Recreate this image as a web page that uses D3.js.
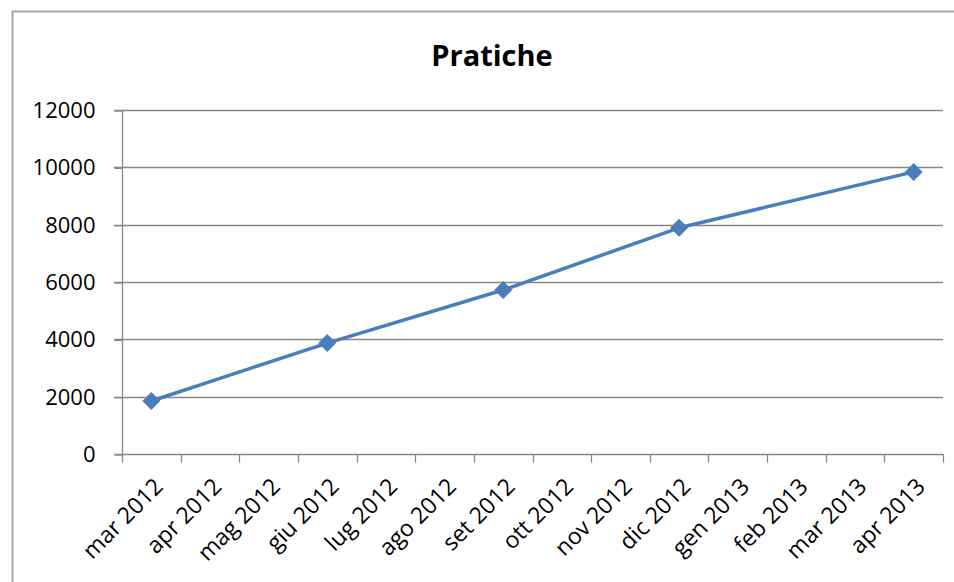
<!DOCTYPE html>
<html><head><meta charset="utf-8">
<script src="https://cdn.jsdelivr.net/npm/d3@7"></script>
<style>body{margin:0;background:#fff;}svg{display:block;}</style>
</head><body>
<script>
const title = "Pratiche";
const categories = ["mar 2012","apr 2012","mag 2012","giu 2012","lug 2012","ago 2012","set 2012","ott 2012","nov 2012","dic 2012","gen 2013","feb 2013","mar 2013","apr 2013"];
const values = [1850, null, null, 3870, null, null, 5720, null, null, 7890, null, null, null, 9840];
const yTicks = [0, 2000, 4000, 6000, 8000, 10000, 12000];

const W = 954, H = 582;
const svg = d3.select("body").append("svg").attr("width", W).attr("height", H);
const font = "'Open Sans', sans-serif";
const grey = "#878787";

svg.append("rect").attr("x", 12.5).attr("y", 11.5).attr("width", 960).attr("height", 600)
  .attr("fill", "#fff").attr("stroke", "#a6a6a6").attr("stroke-width", 2);

const x = d3.scaleBand().domain(categories).range([122, 943]);
const y = d3.scaleLinear().domain([0, 12000]).range([454, 110]);

svg.append("text").attr("x", 492).attr("y", 66).attr("text-anchor", "middle")
  .attr("font-family", font).attr("font-weight", "bold").attr("font-size", 29).attr("fill", "#000").text(title);

// gridlines
svg.append("g").selectAll("line").data(yTicks.filter(d => d > 0)).join("line")
  .attr("x1", 114).attr("x2", 943).attr("y1", d => Math.round(y(d)) + 0.5).attr("y2", d => Math.round(y(d)) + 0.5)
  .attr("stroke", grey).attr("stroke-width", 1.3);

// y axis
const yAxis = svg.append("g").attr("transform", "translate(122.5,0.5)")
  .call(d3.axisLeft(y).tickValues(yTicks).tickSize(8).tickPadding(19).tickFormat(d3.format("d")));
yAxis.select(".domain").attr("stroke", grey).attr("stroke-width", 1.3).attr("d", `M0,${y(12000)}V${y(0)}`);
yAxis.selectAll(".tick line").attr("stroke", grey).attr("stroke-width", 1.3);
yAxis.selectAll("text").attr("font-family", font).attr("font-size", 22).attr("fill", "#000");

// x axis
const xAxis = svg.append("g").attr("transform", `translate(0.5,${Math.round(y(0)) + 0.5})`)
  .call(d3.axisBottom(x).tickSize(0).tickFormat(""));
xAxis.select(".domain").attr("stroke", grey).attr("stroke-width", 1.3).attr("d", `M114,0H943`);
const edges = categories.map(c => x(c)).concat([x.range()[1]]);
xAxis.append("g").selectAll("line").data(edges).join("line")
  .attr("x1", d => Math.round(d)).attr("x2", d => Math.round(d)).attr("y1", 0).attr("y2", 8)
  .attr("stroke", grey).attr("stroke-width", 1.3);
svg.append("g").selectAll("text").data(categories).join("text")
  .attr("transform", d => `translate(${x(d) + x.bandwidth() / 2 + 13},${Math.round(y(0)) + 34}) rotate(-45)`)
  .attr("text-anchor", "end").attr("font-family", font).attr("font-size", 23).attr("fill", "#000").text(d => d);

// line
const pts = categories.map((c, i) => ({c, v: values[i]})).filter(d => d.v != null);
const line = d3.line().x(d => x(d.c) + x.bandwidth() / 2).y(d => y(d.v));
svg.append("path").datum(pts).attr("d", line).attr("fill", "none")
  .attr("stroke", "#4a7ebb").attr("stroke-width", 3.5).attr("stroke-linejoin", "round");
svg.append("g").selectAll("path").data(pts).join("path")
  .attr("transform", d => `translate(${x(d.c) + x.bandwidth() / 2},${y(d.v)})`)
  .attr("d", "M0,-9L9,0L0,9L-9,0Z").attr("fill", "#4a7ebb");
</script>
</body></html>
